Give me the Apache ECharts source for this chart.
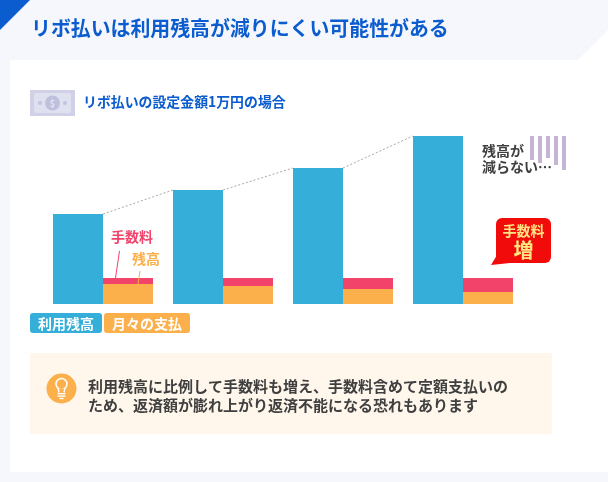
<!DOCTYPE html>
<html><head><meta charset="utf-8">
<style>html,body{margin:0;padding:0;background:#f5f7fc}#c{width:608px;height:482px}</style>
<script src="https://cdn.jsdelivr.net/npm/echarts@6/dist/echarts.min.js"></script>
</head><body><div id="c"></div>
<script>
const categories = ['1', '2', '3', '4'];
const balance = [90, 114, 136, 168];
const principal = [20, 18, 15, 12];
const fee = [6, 8, 11, 14];
const titleText = 'リボ払いは利用残高が減りにくい可能性がある';
const subTitle = 'リボ払いの設定金額1万円の場合';
const legendNames = ['利用残高', '月々の支払'];
const noteLines = ['利用残高に比例して手数料も増え、手数料含めて定額支払いの', 'ため、返済額が膨れ上がり返済不能になる恐れもあります'];

const F = '"Noto Sans CJK JP"';
const BLUE = '#35afd9', ORANGE = '#fbb04c', PINK = '#f2436a', NAVY = '#0b5ccf', MAUVE = '#c6b4d6';
const txt = (x, y, text, size, fill, align, extra) => ({
  type: 'text', x, y, z: 20,
  style: Object.assign({ text, fontFamily: F, fontWeight: 'bold', fontSize: size, fill, align: align || 'left', verticalAlign: 'middle' }, extra || {})
});
const poly = (points, fill, z) => ({ type: 'polygon', z: z || 1, shape: { points }, style: { fill } });
const rect = (x, y, width, height, fill, r, z) => ({ type: 'rect', z: z || 1, shape: { x, y, width, height, r: r || 0 }, style: { fill } });
const seg = (x1, y1, x2, y2, stroke, w, cap, z) => ({ type: 'line', z: z || 10, shape: { x1, y1, x2, y2 }, style: { stroke, lineWidth: w, lineCap: cap || 'butt' } });
const dot = (cx, cy, r, fill, z) => ({ type: 'circle', z: z || 5, shape: { cx, cy, r }, style: { fill } });

const graphic = [
  poly([[10, 60], [578, 60], [608, 30], [608, 472], [10, 472]], '#ffffff', 0),
  rect(0, 472, 608, 10, '#f5f7fc', 0, 0),
  poly([[0, 0], [30, 0], [0, 30]], NAVY),
  txt(31, 28, titleText, 19.9, NAVY),
  // money icon
  rect(30, 90, 45, 26, '#d0d1e7'),
  rect(34, 93, 37, 20, '#dfe0f0', 2, 2),
  dot(52.5, 103, 7.5, '#bfc0dd'),
  dot(40, 103, 2, '#c3c4df'),
  dot(65, 103, 2, '#c3c4df'),
  txt(52.5, 103.5, '$', 9, '#e4e5f3', 'center'),
  txt(83, 102, subTitle, 13.9, NAVY),
  // leaders
  txt(132, 237, '手数料', 14, PINK, 'center'),
  txt(146, 259, '残高', 14, ORANGE, 'center'),
  seg(119.5, 251, 115.5, 278, PINK, 1),
  seg(140, 271, 138, 284, ORANGE, 1),
  // remark
  txt(482, 151, '残高が', 14, '#3f3f3f'),
  txt(482, 167, '減らない…', 14, '#3f3f3f'),
  seg(532, 136, 532, 160, MAUVE, 4),
  seg(540, 136, 540, 163, MAUVE, 4),
  seg(548, 136, 548, 158, MAUVE, 4),
  seg(556, 136, 556, 165, MAUVE, 4),
  seg(564, 136, 564, 170, MAUVE, 4),
  // callout
  rect(496, 218, 55, 45, '#f10b0b', 6, 5),
  poly([[497, 255], [491, 265], [510, 263]], '#f10b0b', 5),
  txt(523.5, 231, '手数料', 14, '#ffe680', 'center'),
  txt(523.5, 250, '増', 20, '#ffe680', 'center'),
  // legend chips
  rect(30, 313, 72, 20, BLUE, 3),
  rect(104, 313, 86, 20, ORANGE, 3),
  txt(66, 323.5, legendNames[0], 14, '#ffffff', 'center'),
  txt(147, 323.5, legendNames[1], 14, '#ffffff', 'center'),
  // note
  rect(30, 353, 522, 81, '#fff6ec'),
  dot(61.5, 388.5, 15, ORANGE),
  { type: 'circle', z: 6, shape: { cx: 61.5, cy: 384, r: 5.5 }, style: { fill: 'none', stroke: '#fff', lineWidth: 1.5 } },
  rect(59, 388.5, 5, 4, ORANGE, 0, 7),
  seg(58.2, 388.5, 59, 392.5, '#ffffff', 1.4, 'butt', 8),
  seg(64.8, 388.5, 64, 392.5, '#ffffff', 1.4, 'butt', 8),
  rect(57.5, 393, 8, 1.4, '#ffffff', 0, 8),
  rect(57.5, 395.4, 8, 1.4, '#ffffff', 0, 8),
  rect(59.5, 397.8, 4, 1.4, '#ffffff', 0, 8),
  txt(88, 386, noteLines[0], 15, '#3f3f3f'),
  txt(88, 405, noteLines[1], 15, '#3f3f3f')
];

const chart = echarts.init(document.getElementById('c'), null, { renderer: 'canvas' });
chart.setOption({
  animation: false,
  backgroundColor: '#f5f7fc',
  graphic,
  grid: { left: 43, width: 480, top: 124, height: 180 },
  xAxis: { type: 'category', data: categories, show: false },
  yAxis: { type: 'value', min: 0, max: 180, show: false },
  series: [
    { name: legendNames[0], type: 'bar', stack: 'a', barWidth: 50, barGap: 0, data: balance, itemStyle: { color: BLUE }, z: 3 },
    { name: legendNames[1], type: 'bar', stack: 'b', barWidth: 50, barGap: 0, data: principal, itemStyle: { color: ORANGE }, z: 3 },
    { name: '手数料', type: 'bar', stack: 'b', barWidth: 50, data: fee, itemStyle: { color: PINK }, z: 3 },
    {
      name: 'trend', type: 'custom', data: balance.map((v, i) => [i, v]), z: 4,
      renderItem(params, api) {
        const i = api.value(0);
        if (i >= balance.length - 1) return null;
        const a = api.coord([i, balance[i]]);
        const b = api.coord([i + 1, balance[i + 1]]);
        return { type: 'line', shape: { x1: a[0], y1: a[1], x2: b[0] - 50, y2: b[1] },
          style: { stroke: '#a8a8a8', lineWidth: 1, lineDash: [2, 2] } };
      }
    }
  ]
});
</script></body></html>
